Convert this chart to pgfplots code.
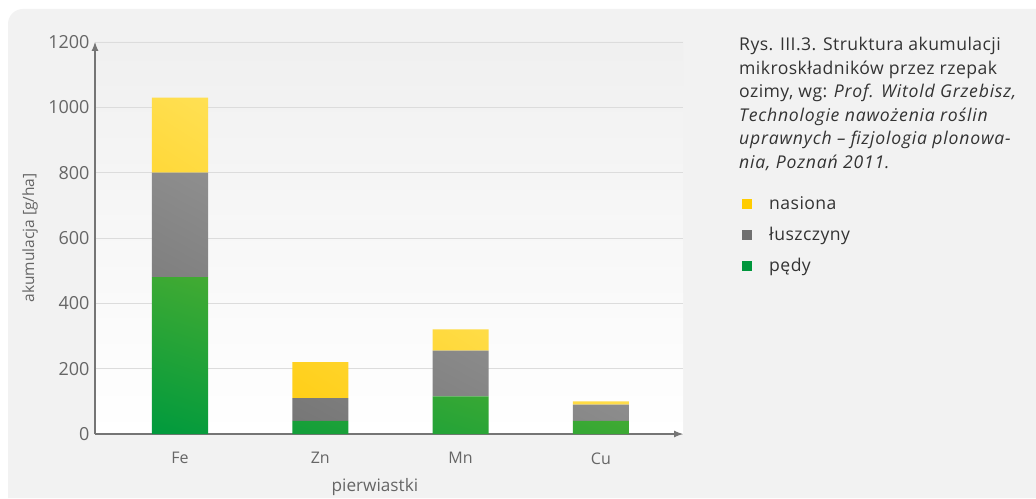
\documentclass[border=0pt]{standalone}
\usepackage{pgfplots}
\pgfplotsset{compat=1.18}
\usepackage{fontspec}
\setmainfont{Open Sans}
\newfontfamily\capfont{Open Sans}[LetterSpace=2.5, ItalicFeatures={LetterSpace=4.5}]
\usetikzlibrary{arrows.meta,shadings}

\definecolor{bggrey}{HTML}{F2F2F2}
\definecolor{gridgrey}{HTML}{DCDCDC}
\definecolor{axisgrey}{HTML}{757575}
\definecolor{ticktext}{HTML}{666666}
\definecolor{captext}{HTML}{333333}
\definecolor{greenD}{HTML}{009A3D}
\definecolor{greenL}{HTML}{76B82A}
\definecolor{greyD}{HTML}{6E6E6E}
\definecolor{greyL}{HTML}{A8A8A8}
\definecolor{yellowD}{HTML}{FFC800}
\definecolor{yellowL}{HTML}{FFF396}
\definecolor{legYellow}{HTML}{FFCC00}
\definecolor{legGrey}{HTML}{707070}
\definecolor{legGreen}{HTML}{00963C}

% accumulation of micronutrients in winter rape [g/ha]
\pgfplotstableread{
x  pedy luszczyny nasiona
0  480  320       230
1  40   70        110
2  115  140       65
3  40   50        10
}\accum

\pgfplotsset{
  diagshade/.style n args={2}{draw=none,
    lower left=#1, upper right=#2,
    upper left=#1!50!#2, lower right=#1!50!#2},
  legsquare/.style={legend image code/.code={%
    \fill[#1, draw=none] (2pt,-5pt) rectangle (12pt,5pt);
    \path[draw=none] (0pt,0pt) -- (27pt,0pt);}},
}

\begin{document}
\begin{tikzpicture}[x=1pt,y=1pt]
\useasboundingbox (0,0) rectangle (1036,498);
\fill[white] (0,0) rectangle (1036,498);
\fill[bggrey] (8,0) -- (8,474) arc[start angle=180,end angle=90,radius=15] -- (1036,489) -- (1036,0) -- cycle;

\begin{axis}[
  at={(95pt,64pt)}, anchor=south west,
  scale only axis, width=588pt, height=392pt,
  xmin=-0.606, xmax=3.585, ymin=0, ymax=1200,
  ybar stacked, bar width=0.4,
  axis background/.style={top color=bggrey!90!gridgrey, middle color=white, bottom color=white},
  axis lines*=left,
  axis line style={draw=axisgrey, line width=1.1pt},
  x axis line style={-{Latex[length=9pt,width=7pt]}},
  y axis line style={-{Latex[length=9pt,width=7pt]}},
  xtick={0,1,2,3}, xticklabels={Fe,Zn,Mn,Cu},
  ytick={0,200,...,1200},
  major tick length=0pt,
  ymajorgrids, grid style={draw=gridgrey, line width=0.9pt},
  /pgf/number format/assume math mode=true,
  /pgf/number format/1000 sep={},
  yticklabel style={font=\fontsize{18}{21}\selectfont, text=ticktext, xshift=-2pt},
  xticklabel style={font=\fontsize{16}{19}\selectfont, text=ticktext, yshift=-15pt},
  xlabel={pierwiastki},
  ylabel={akumulacja [g/ha]},
  xlabel style={font=\fontsize{17.2}{19}\selectfont, text=ticktext,
    at={(axis description cs:0.476,0)}, anchor=center, yshift=-53pt},
  ylabel style={font=\fontsize{15.5}{18}\selectfont, text=ticktext,
    at={(axis description cs:-0.1105,0.5)}, anchor=center},
  legend style={at={(1.097,0.61)}, anchor=north west, draw=none, fill=none,
    font=\capfont\fontsize{17.6}{20}\selectfont, text=captext,
    row sep=12pt, inner sep=0pt},
  legend cell align=left,
]
\addplot[diagshade={greenD}{greenL}, forget plot] table[x=x, y=pedy] {\accum};
\addplot[diagshade={greyD}{greyL}, forget plot] table[x=x, y=luszczyny] {\accum};
\addplot[diagshade={yellowD}{yellowL}, forget plot] table[x=x, y=nasiona] {\accum};

\addlegendimage{legsquare=legYellow}
\addlegendentry{nasiona}
\addlegendimage{legsquare=legGrey}
\addlegendentry{łuszczyny}
\addlegendimage{legsquare=legGreen}
\addlegendentry{pędy}
\end{axis}

\node[anchor=north west, inner sep=0pt, align=left, text=captext,
  font=\capfont\fontsize{17.6}{23.6}\selectfont] at (739,461) {%
  Rys. III.3. Struktura akumulacji\\
  mikroskładników przez rzepak\\
  ozimy, wg: \textit{Prof. Witold Grzebisz,}\\
  \textit{Technologie nawożenia roślin}\\
  \textit{uprawnych – fizjologia plonowa-}\\
  \textit{nia, Poznań 2011.}};
\end{tikzpicture}
\end{document}
